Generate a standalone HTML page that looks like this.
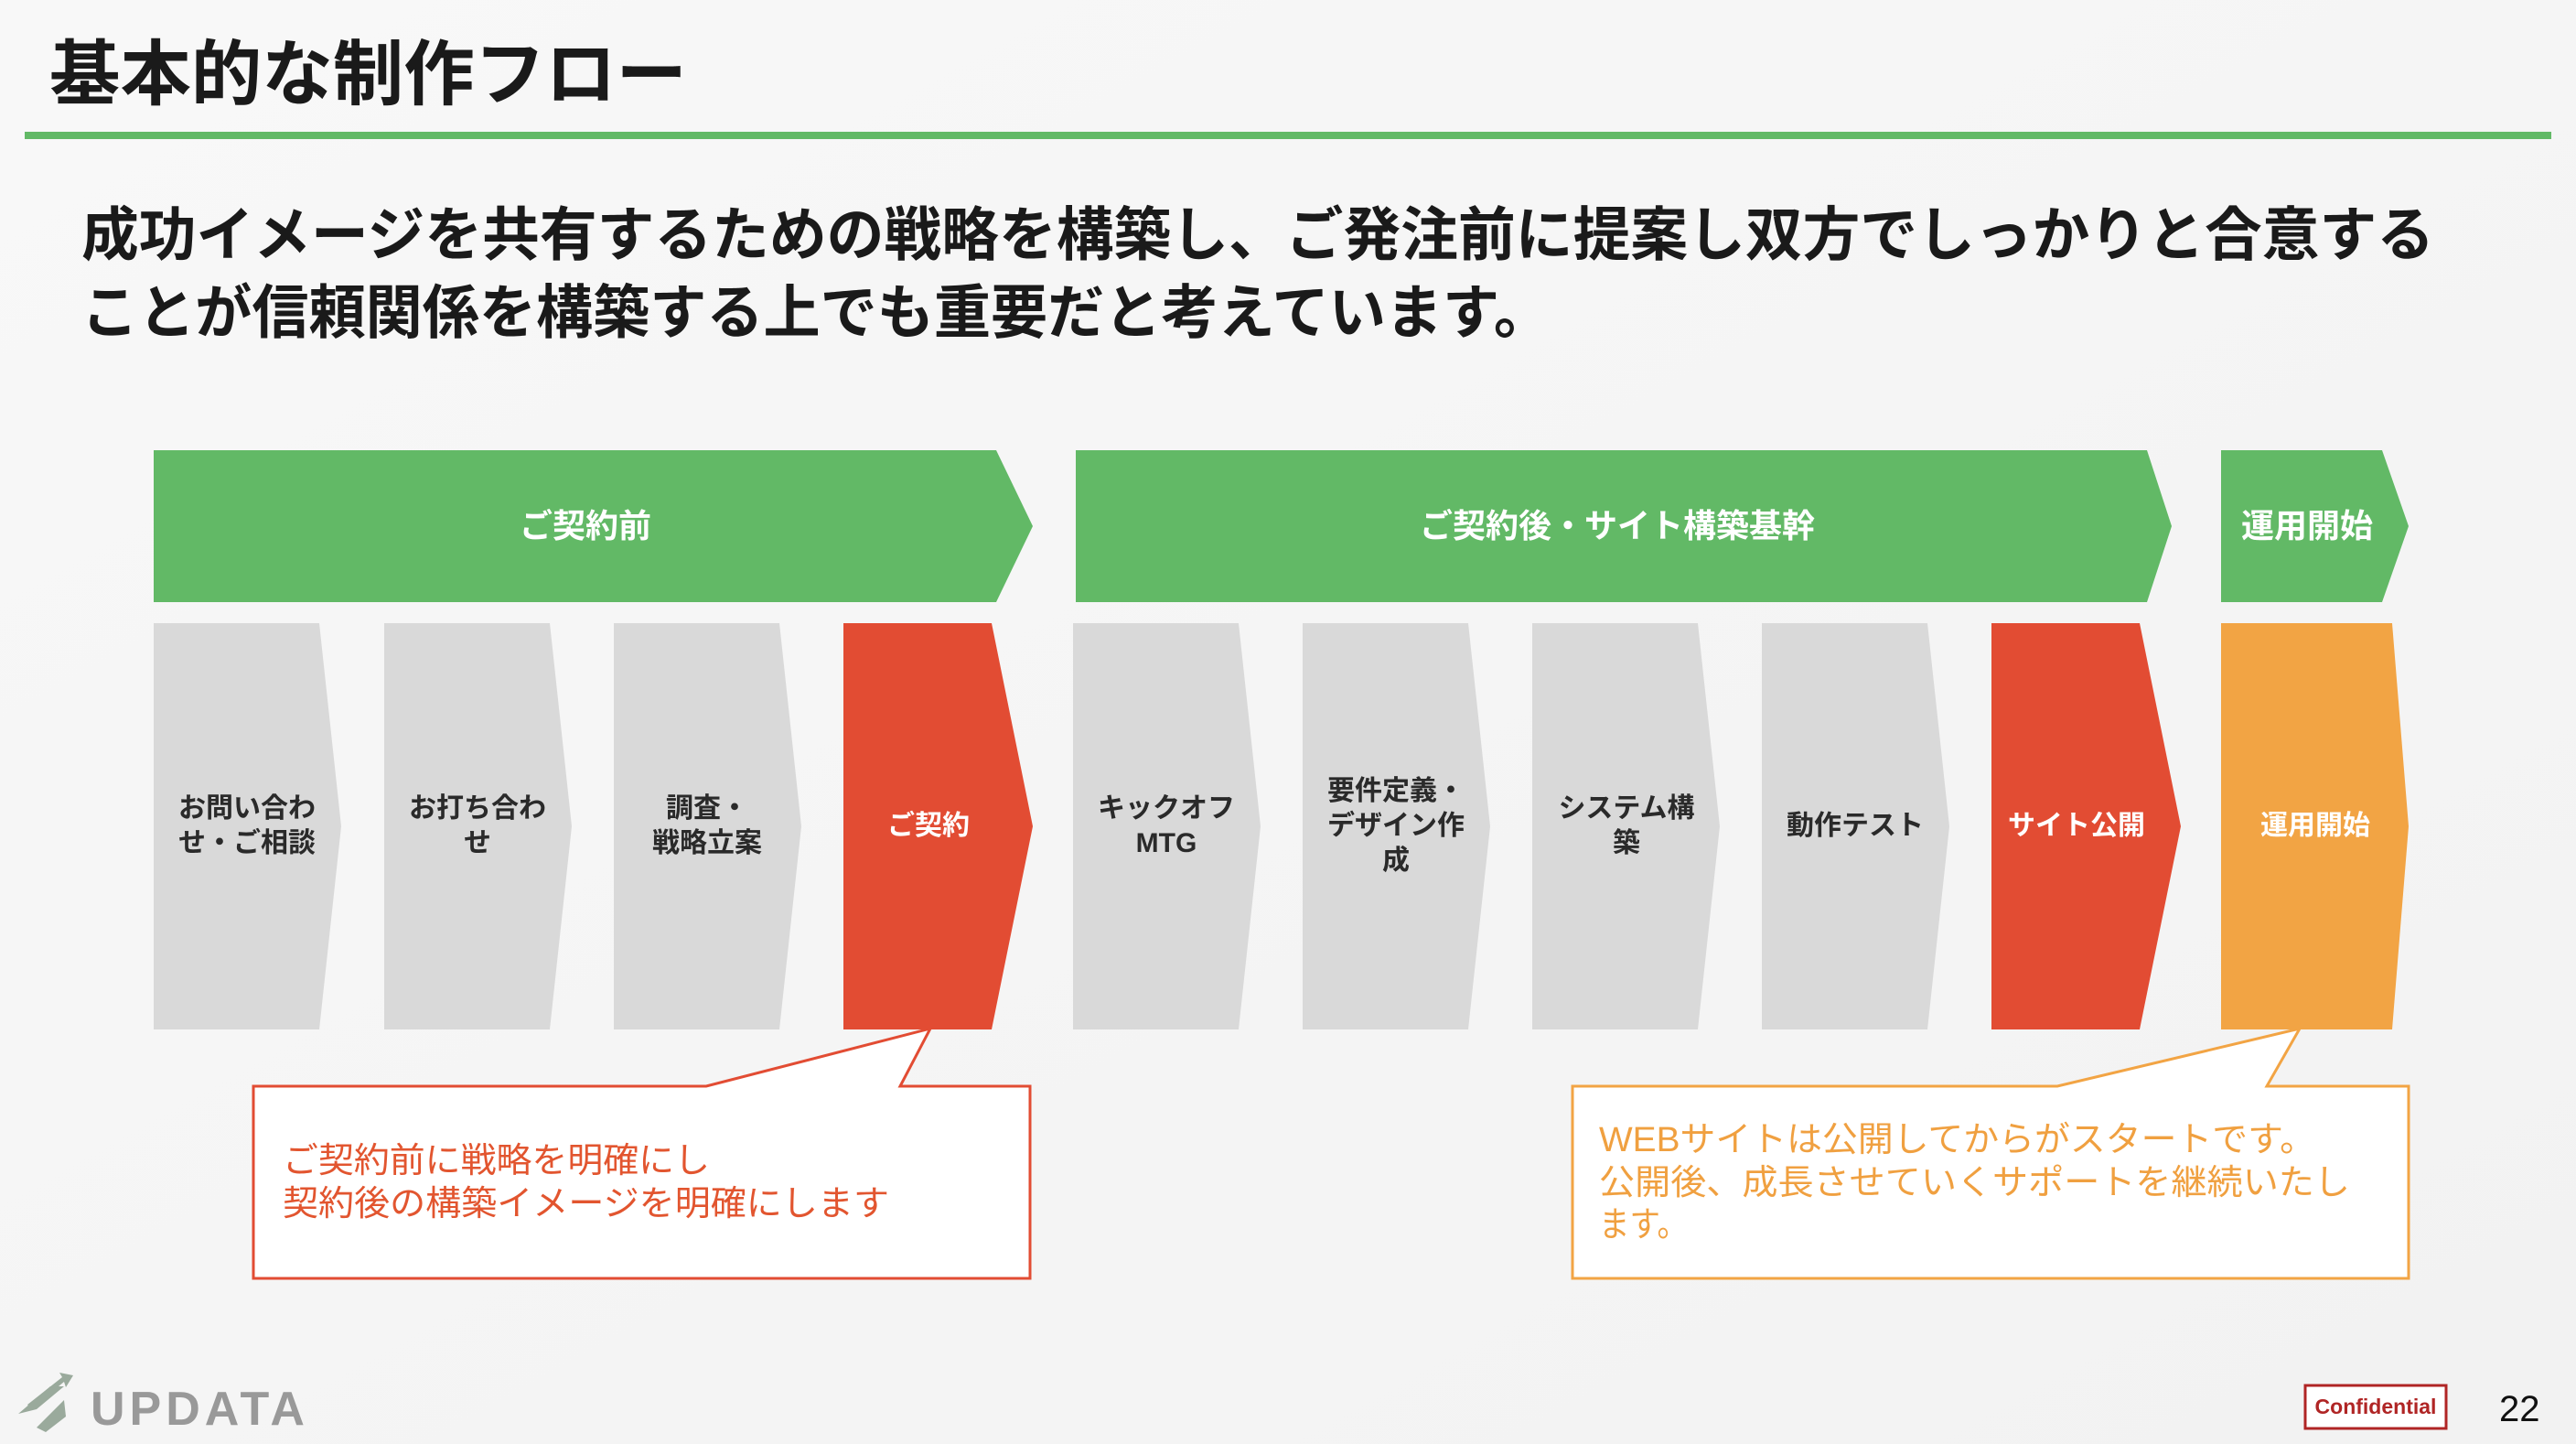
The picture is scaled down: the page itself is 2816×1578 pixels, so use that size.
<!DOCTYPE html>
<html><head><meta charset="utf-8"><style>
html,body{margin:0;padding:0;width:2816px;height:1578px;overflow:hidden;background:#f6f6f6}
svg{display:block}
text{font-family:"Liberation Sans","Noto Sans CJK JP",sans-serif}
</style></head><body>
<svg width="2816" height="1578" viewBox="0 0 2816 1578" xmlns="http://www.w3.org/2000/svg">
<defs><linearGradient id="bg" x1="0" y1="0" x2="1" y2="1"><stop offset="0" stop-color="#f8f8f8"/><stop offset="1" stop-color="#f2f2f2"/></linearGradient></defs>
<rect width="2816" height="1578" fill="url(#bg)"/>
<text x="54" y="108" font-size="78" font-weight="bold" fill="#1a1a1a" textLength="697" lengthAdjust="spacingAndGlyphs">基本的な制作フロー</text>
<rect x="27" y="144" width="2762" height="8" fill="#62b966"/>
<text x="89" y="279" font-size="64" font-weight="bold" fill="#1a1a1a" textLength="2572" lengthAdjust="spacingAndGlyphs">成功イメージを共有するための戦略を構築し、ご発注前に提案し双方でしっかりと合意する</text>
<text x="89" y="364" font-size="64" font-weight="bold" fill="#1a1a1a" textLength="1606" lengthAdjust="spacingAndGlyphs">ことが信頼関係を構築する上でも重要だと考えています。</text>

<polygon points="168,492 1089,492 1129,575 1089,658 168,658" fill="#62b966"/>
<polygon points="1176,492 2347,492 2374,575 2347,658 1176,658" fill="#62b966"/>
<polygon points="2428,492 2604,492 2633,575 2604,658 2428,658" fill="#62b966"/>
<g font-size="36" font-weight="bold" fill="#fff" text-anchor="middle">
<text x="640" y="587">ご契約前</text>
<text x="1768" y="587">ご契約後・サイト構築基幹</text>
<text x="2522" y="587">運用開始</text>
</g>

<g fill="#d9d9d9">
<polygon points="168,681 349,681 373,903 349,1125 168,1125"/>
<polygon points="420,681 601,681 625,903 601,1125 420,1125"/>
<polygon points="671,681 852,681 876,903 852,1125 671,1125"/>
<polygon points="1173,681 1354,681 1378,903 1354,1125 1173,1125"/>
<polygon points="1424,681 1605,681 1629,903 1605,1125 1424,1125"/>
<polygon points="1675,681 1856,681 1880,903 1856,1125 1675,1125"/>
<polygon points="1926,681 2107,681 2131,903 2107,1125 1926,1125"/>
</g>
<polygon points="922,681 1084,681 1129,903 1084,1125 922,1125" fill="#e24c33"/>
<polygon points="2177,681 2339,681 2384,903 2339,1125 2177,1125" fill="#e24c33"/>
<polygon points="2428,681 2615,681 2633,903 2615,1125 2428,1125" fill="#f2a444"/>

<g font-size="30" font-weight="bold" fill="#2a2a2a" text-anchor="middle">
<text x="270" y="893">お問い合わ</text><text x="270" y="931">せ・ご相談</text>
<text x="522" y="893">お打ち合わ</text><text x="522" y="931">せ</text>
<text x="773" y="893">調査・</text><text x="773" y="931">戦略立案</text>
<text x="1275" y="893">キックオフ</text><text x="1275" y="931">MTG</text>
<text x="1526" y="874">要件定義・</text><text x="1526" y="912">デザイン作</text><text x="1526" y="950">成</text>
<text x="1778" y="893">システム構</text><text x="1778" y="931">築</text>
<text x="2028" y="912">動作テスト</text>
</g>
<g font-size="30" font-weight="bold" fill="#fff" text-anchor="middle">
<text x="1015" y="912">ご契約</text>
<text x="2270" y="912">サイト公開</text>
<text x="2531" y="912">運用開始</text>
</g>

<polygon points="277,1187 772,1187 1017,1124 984,1187 1126,1187 1126,1397 277,1397" fill="#fff" stroke="#e24c33" stroke-width="3"/>
<g font-size="38" fill="#e2552f">
<text x="309" y="1281" textLength="467" lengthAdjust="spacingAndGlyphs">ご契約前に戦略を明確にし</text>
<text x="309" y="1328" textLength="663" lengthAdjust="spacingAndGlyphs">契約後の構築イメージを明確にします</text>
</g>
<polygon points="1719,1187 2249,1187 2514,1124 2478,1187 2633,1187 2633,1397 1719,1397" fill="#fff" stroke="#f2a444" stroke-width="3"/>
<g font-size="38" fill="#f0a040">
<text x="1748" y="1258" textLength="783" lengthAdjust="spacingAndGlyphs">WEBサイトは公開してからがスタートです。</text>
<text x="1748" y="1305" textLength="821" lengthAdjust="spacingAndGlyphs">公開後、成長させていくサポートを継続いたし</text>
<text x="1748" y="1351" textLength="97" lengthAdjust="spacingAndGlyphs">ます。</text>
</g>

<g fill="#9aaa9c">
<polygon points="20,1545 55,1515 70,1515 40,1540"/>
<polygon points="40,1560 70,1530 72,1548 50,1565"/>
<polygon points="30,1535 68,1505 65,1500 80,1503 72,1516 70,1510 34,1540"/>
</g>
<text x="99" y="1557" font-size="52" font-weight="bold" fill="#999" letter-spacing="5">UPDATA</text>
<rect x="2520" y="1514" width="154" height="47" fill="#fff" stroke="#b02525" stroke-width="3"/>
<text x="2597" y="1545" font-size="23" font-weight="bold" fill="#b02525" text-anchor="middle">Confidential</text>
<text x="2732" y="1553" font-size="40" fill="#111">22</text>
</svg>
</body></html>
